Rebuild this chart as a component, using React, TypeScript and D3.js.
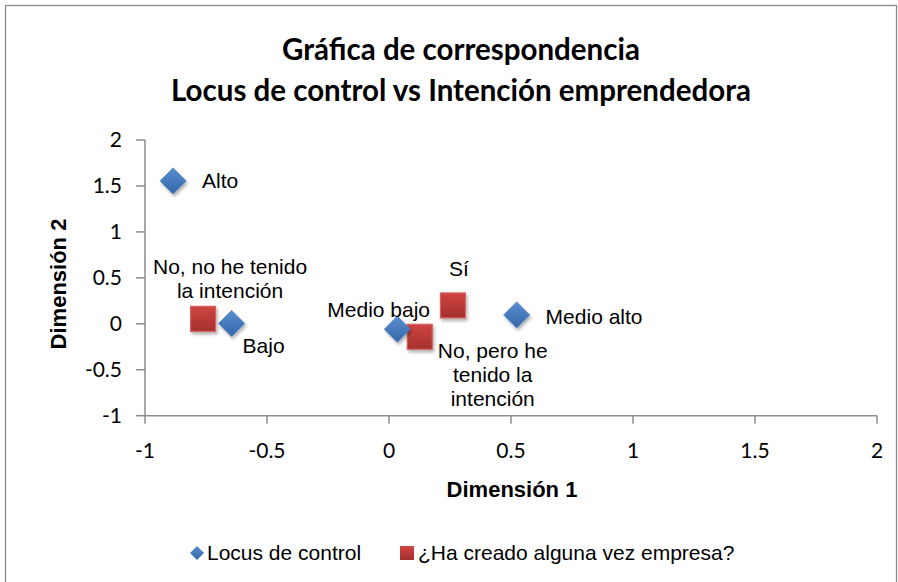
import React from "react";
import * as d3 from "d3";

const locusNames = ["Alto", "Bajo", "Medio bajo", "Medio alto"];
const locusDim1 = [-0.885, -0.645, 0.034, 0.523];
const locusDim2 = [1.555, 0.004, -0.058, 0.097];

const empresaNames = ["No, no he tenido la intención", "Sí", "No, pero he tenido la intención"];
const empresaDim1 = [-0.762, 0.262, 0.126];
const empresaDim2 = [0.054, 0.2, -0.141];

const xTicks = [-1, -0.5, 0, 0.5, 1, 1.5, 2];
const yTicks = [-1, -0.5, 0, 0.5, 1, 1.5, 2];

const titleLines = ["Gráfica de correspondencia", "Locus de control vs Intención emprendedora"];
const xTitle = "Dimensión 1";
const yTitle = "Dimensión 2";
const legendNames = ["Locus de control", "¿Ha creado alguna vez empresa?"];

// label layout (pixel offsets from the marker, and text lines)
const locusLabels = [
  { lines: ["Alto"], dx: 29, dy: 7, anchor: "start" },
  { lines: ["Bajo"], dx: 11, dy: 30, anchor: "start" },
  { lines: ["Medio bajo"], dx: -70, dy: -12, anchor: "start" },
  { lines: ["Medio alto"], dx: 29, dy: 9, anchor: "start" },
];
const empresaLabels = [
  { lines: ["No, no he tenido", "la intención"], dx: 27, dy: -45, anchor: "middle" },
  { lines: ["Sí"], dx: 6, dy: -29, anchor: "middle" },
  { lines: ["No, pero he", "tenido la", "intención"], dx: 73, dy: 21, anchor: "middle" },
];

const W = 898;
const H = 582;

export default function App() {
  const x = d3.scaleLinear().domain([-1, 2]).range([145, 877]);
  const y = d3.scaleLinear().domain([-1, 2]).range([415.7, 140]);
  const fmt = (t: number) => String(t);
  const diamond = (cx: number, cy: number, r: number) =>
    `M${cx},${cy - r}L${cx + r},${cy}L${cx},${cy + r}L${cx - r},${cy}Z`;
  const axisColor = "#8c8c8c";
  const labelFont = "'Liberation Sans', Arial, sans-serif";
  const calib = "Lato, 'Open Sans', sans-serif";
  const lf = 21;

  return (
    <div style={{ position: "absolute", left: 0, top: 0 }}>
      <svg width={W} height={H} style={{ display: "block", background: "#fff" }}>
        <defs>
          <linearGradient id="gBlue" x1="0" y1="0" x2="0" y2="1">
            <stop offset="0" stopColor="#5a8fd2" />
            <stop offset="1" stopColor="#3466a8" />
          </linearGradient>
          <linearGradient id="gRed" x1="0" y1="0" x2="0" y2="1">
            <stop offset="0" stopColor="#cf4541" />
            <stop offset="1" stopColor="#a3302d" />
          </linearGradient>
          <filter id="sh" x="-50%" y="-50%" width="200%" height="200%">
            <feDropShadow dx="1.5" dy="2.5" stdDeviation="1.8" floodColor="#000" floodOpacity="0.3" />
          </filter>
        </defs>
        <rect x={5.5} y={5.5} width={891} height={620} fill="#fff" stroke="#8a8a8a" strokeWidth={1.3} />

        {titleLines.map((t, i) => (
          <text key={i} x={461} y={60 + i * 41} textAnchor="middle" fontFamily={calib}
            fontWeight="bold" fontSize={29.5} fill="#000">{t}</text>
        ))}

        {/* axes */}
        <line x1={x(-1)} x2={x(2)} y1={y(-1)} y2={y(-1)} stroke={axisColor} strokeWidth={1.5} />
        <line x1={x(-1)} x2={x(-1)} y1={y(-1)} y2={y(2)} stroke={axisColor} strokeWidth={1.5} />
        {xTicks.map((t) => (
          <g key={"x" + t}>
            <line x1={x(t)} x2={x(t)} y1={y(-1)} y2={y(-1) + 8} stroke={axisColor} strokeWidth={1.5} />
            <text x={x(t)} y={458} textAnchor="middle" fontFamily={calib} fontSize={21} fill="#000">{fmt(t)}</text>
          </g>
        ))}
        {yTicks.map((t) => (
          <g key={"y" + t}>
            <line x1={x(-1) - 9} x2={x(-1)} y1={y(t)} y2={y(t)} stroke={axisColor} strokeWidth={1.5} />
            <text x={122} y={y(t) + 7} textAnchor="end" fontFamily={calib} fontSize={21} fill="#000">{fmt(t)}</text>
          </g>
        ))}

        <text x={512} y={497} textAnchor="middle" fontFamily={labelFont} fontWeight="bold" fontSize={22} fill="#000">{xTitle}</text>
        <text transform={`translate(66,284) rotate(-90)`} textAnchor="middle" fontFamily={labelFont} fontWeight="bold" fontSize={22} fill="#000">{yTitle}</text>

        {/* markers */}
        {empresaDim1.map((v, i) => (
          <rect key={"e" + i} x={x(v) - 12.5} y={y(empresaDim2[i]) - 12.5} width={25} height={25}
            fill="url(#gRed)" stroke="#d46462" strokeWidth={1.2} filter="url(#sh)" />
        ))}
        {locusDim1.map((v, i) => (
          <path key={"l" + i} d={diamond(x(v), y(locusDim2[i]), 13)} fill="url(#gBlue)"
            stroke="#4a7cc0" strokeWidth={0.8} strokeLinejoin="round" filter="url(#sh)" />
        ))}

        {/* data labels */}
        {locusDim1.map((v, i) => {
          const L = locusLabels[i];
          return (
            <text key={"ll" + i} x={x(v) + L.dx} y={y(locusDim2[i]) + L.dy} textAnchor={L.anchor}
              fontFamily={labelFont} fontSize={lf} fill="#000">
              {L.lines.map((s, j) => (
                <tspan key={j} x={x(v) + L.dx} dy={j === 0 ? 0 : 24}>{s}</tspan>
              ))}
            </text>
          );
        })}
        {empresaDim1.map((v, i) => {
          const L = empresaLabels[i];
          return (
            <text key={"el" + i} x={x(v) + L.dx} y={y(empresaDim2[i]) + L.dy} textAnchor={L.anchor}
              fontFamily={labelFont} fontSize={lf} fill="#000">
              {L.lines.map((s, j) => (
                <tspan key={j} x={x(v) + L.dx} dy={j === 0 ? 0 : 24}>{s}</tspan>
              ))}
            </text>
          );
        })}

        {/* legend */}
        <path d={diamond(197, 553, 7)} fill="url(#gBlue)" />
        <text x={207} y={560} fontFamily={labelFont} fontSize={lf} fill="#000">{legendNames[0]}</text>
        <rect x={400} y={546} width={14} height={14} fill="url(#gRed)" />
        <text x={418} y={560} fontFamily={labelFont} fontSize={lf} fill="#000">{legendNames[1]}</text>
      </svg>
    </div>
  );
}
